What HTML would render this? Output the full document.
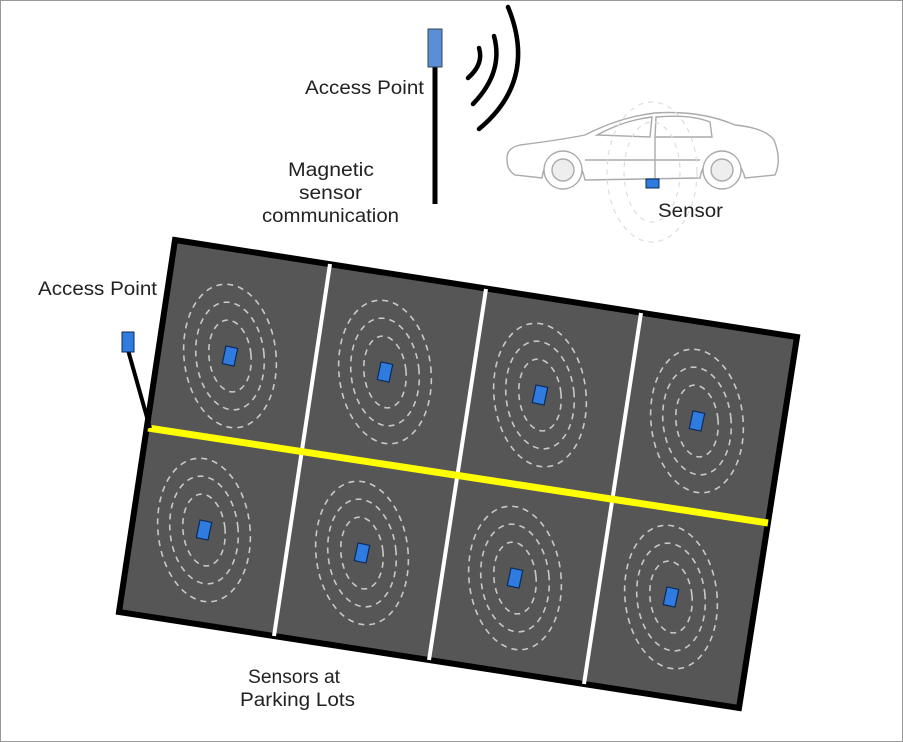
<!DOCTYPE html>
<html><head><meta charset="utf-8"><style>
html,body{margin:0;padding:0;background:#fff;}
svg{display:block;}
text{font-family:"Liberation Sans",sans-serif;font-size:19px;fill:#222;}
</style></head><body>
<svg width="903" height="742" viewBox="0 0 903 742" xmlns="http://www.w3.org/2000/svg">
<rect x="0.5" y="0.5" width="902" height="741" fill="#fff" stroke="#999" stroke-width="1"/>
<polygon points="175,240 797,337 739,708 119,612" fill="#565656" stroke="#000" stroke-width="6" stroke-linejoin="miter"/>
<g stroke="#fff" stroke-width="4">
<line x1="330" y1="264" x2="274" y2="636"/>
<line x1="486" y1="289" x2="429" y2="660"/>
<line x1="641" y1="313" x2="584" y2="684"/>
</g>
<line x1="148" y1="428" x2="768" y2="523" stroke="#ffff00" stroke-width="7"/>
<g fill="none" stroke="#c8c8c8" stroke-width="1.6" stroke-dasharray="6,5">
<g transform="translate(230,356) rotate(-6)"><ellipse rx="46" ry="72"/><ellipse rx="34" ry="54"/><ellipse rx="21" ry="36"/></g>
<g transform="translate(385,372) rotate(-6)"><ellipse rx="46" ry="72"/><ellipse rx="34" ry="54"/><ellipse rx="21" ry="36"/></g>
<g transform="translate(540,395) rotate(-6)"><ellipse rx="46" ry="72"/><ellipse rx="34" ry="54"/><ellipse rx="21" ry="36"/></g>
<g transform="translate(697,421) rotate(-6)"><ellipse rx="46" ry="72"/><ellipse rx="34" ry="54"/><ellipse rx="21" ry="36"/></g>
<g transform="translate(204,530) rotate(-6)"><ellipse rx="46" ry="72"/><ellipse rx="34" ry="54"/><ellipse rx="21" ry="36"/></g>
<g transform="translate(362,553) rotate(-6)"><ellipse rx="46" ry="72"/><ellipse rx="34" ry="54"/><ellipse rx="21" ry="36"/></g>
<g transform="translate(515,578) rotate(-6)"><ellipse rx="46" ry="72"/><ellipse rx="34" ry="54"/><ellipse rx="21" ry="36"/></g>
<g transform="translate(671,597) rotate(-6)"><ellipse rx="46" ry="72"/><ellipse rx="34" ry="54"/><ellipse rx="21" ry="36"/></g>
</g>
<g fill="#2f7be0" stroke="#0b2a5a" stroke-width="1.2">
<rect x="-6" y="-9" width="12" height="18" transform="translate(230,356) rotate(12)"/>
<rect x="-6" y="-9" width="12" height="18" transform="translate(385,372) rotate(12)"/>
<rect x="-6" y="-9" width="12" height="18" transform="translate(540,395) rotate(12)"/>
<rect x="-6" y="-9" width="12" height="18" transform="translate(697,421) rotate(12)"/>
<rect x="-6" y="-9" width="12" height="18" transform="translate(204,530) rotate(12)"/>
<rect x="-6" y="-9" width="12" height="18" transform="translate(362,553) rotate(12)"/>
<rect x="-6" y="-9" width="12" height="18" transform="translate(515,578) rotate(12)"/>
<rect x="-6" y="-9" width="12" height="18" transform="translate(671,597) rotate(12)"/>
</g>
<line x1="128" y1="350" x2="150" y2="428" stroke="#000" stroke-width="4"/>
<rect x="122" y="332" width="12" height="20" fill="#2f7be0" stroke="#0b2a5a" stroke-width="1"/>
<text x="38" y="295" textLength="119" lengthAdjust="spacingAndGlyphs">Access Point</text>
<line x1="435" y1="66" x2="435" y2="204" stroke="#000" stroke-width="5"/>
<rect x="428" y="29" width="14" height="38" fill="#5a8fd8" stroke="#345" stroke-width="1"/>
<text x="305" y="94" textLength="119" lengthAdjust="spacingAndGlyphs">Access Point</text>
<text x="288" y="176" textLength="86" lengthAdjust="spacingAndGlyphs">Magnetic</text>
<text x="299" y="199" textLength="63" lengthAdjust="spacingAndGlyphs">sensor</text>
<text x="262" y="222" textLength="137" lengthAdjust="spacingAndGlyphs">communication</text>
<g fill="none" stroke="#000" stroke-width="4.5" stroke-linecap="round">
<path d="M468,78 Q484,64 479,48"/>
<path d="M473,104 Q504,72 494,36"/>
<path d="M479,129 Q538,80 508,7"/>
</g>
<g fill="#fff" stroke="#aaa" stroke-width="1.4">
<path d="M507,160 Q506,148 520,145 Q560,140 585,135 Q620,117 655,113 Q700,110 735,125 Q765,128 774,140 Q782,160 775,175 L745,178 Q740,158 722,156 Q703,158 700,178 L585,180 Q580,156 563,154 Q545,156 542,178 L515,175 Q507,170 507,160 Z"/>
<path d="M597,135 Q625,120 652,117 L650,137 Z M656,117 Q690,114 710,122 L712,137 L655,137 Z"/>
<line x1="585" y1="160" x2="700" y2="160"/>
<line x1="655" y1="137" x2="655" y2="178"/>
<circle cx="563" cy="170" r="19"/><circle cx="563" cy="170" r="11" fill="#eee"/>
<circle cx="722" cy="170" r="19"/><circle cx="722" cy="170" r="11" fill="#eee"/>
</g>
<g fill="none" stroke="#ddd" stroke-width="1.2" stroke-dasharray="5,5">
<ellipse cx="652" cy="172" rx="45" ry="70"/>
<ellipse cx="652" cy="172" rx="28" ry="50"/>
</g>
<rect x="646" y="179" width="13" height="9" fill="#2f7be0" stroke="#0b2a5a" stroke-width="1"/>
<text x="658" y="217" textLength="65" lengthAdjust="spacingAndGlyphs">Sensor</text>
<text x="248" y="683" textLength="92" lengthAdjust="spacingAndGlyphs">Sensors at</text>
<text x="240" y="706" textLength="115" lengthAdjust="spacingAndGlyphs">Parking Lots</text>
</svg>
</body></html>
